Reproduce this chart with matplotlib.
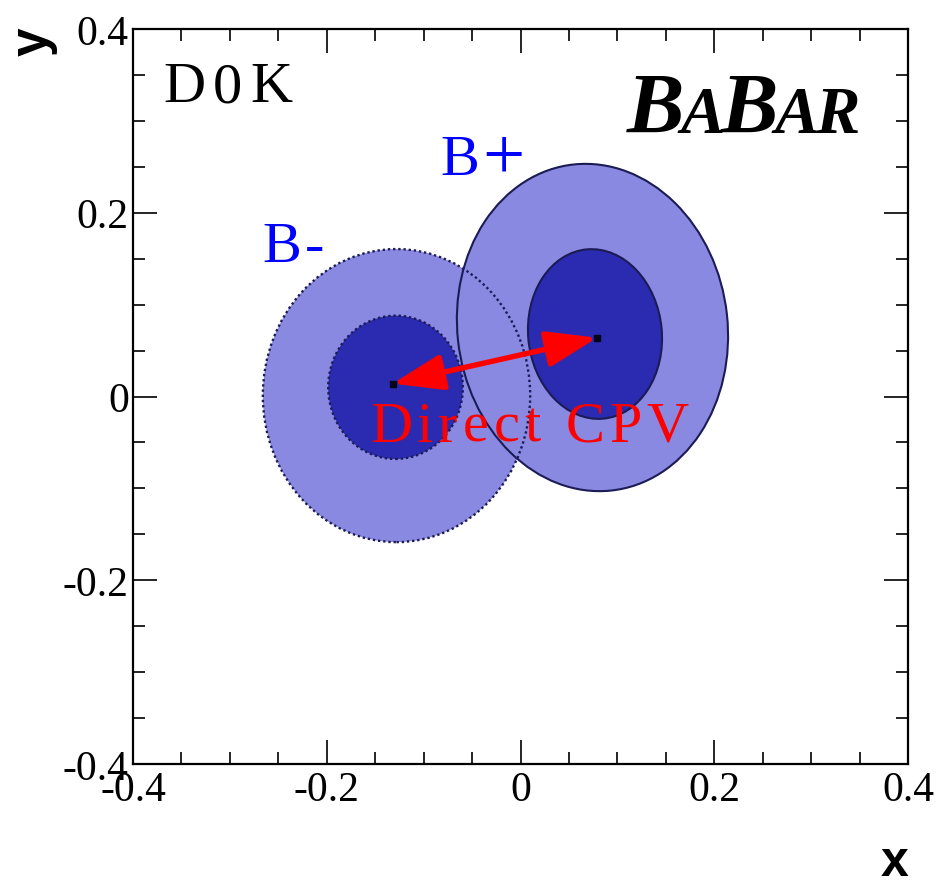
import matplotlib
matplotlib.use("Agg")
import matplotlib.pyplot as plt
from matplotlib.patches import Ellipse, FancyArrowPatch
from matplotlib.ticker import FixedLocator, MultipleLocator, FixedFormatter
import matplotlib.transforms as mtransforms

plt.rcParams["axes.unicode_minus"] = False

# ---- axis ticks ----
x_ticks = [-0.4, -0.2, 0.0, 0.2, 0.4]
x_tick_labels = ["-0.4", "-0.2", "0", "0.2", "0.4"]
y_ticks = [-0.4, -0.2, 0.0, 0.2, 0.4]
y_tick_labels = ["-0.4", "-0.2", "0", "0.2", "0.4"]

# ---- fit results: best-fit points (x, y) ----
bminus_center = [-0.132, 0.014]
bplus_center = [0.079, 0.064]

# ---- confidence contours: centre x, centre y, width, height, angle(deg) ----
bminus_outer = [-0.128, 0.001, 0.276, 0.319, 0.0]
bminus_inner = [-0.129, 0.010, 0.139, 0.156, 0.0]
bplus_outer = [0.0743, 0.0751, 0.279, 0.357, 6.0]
bplus_inner = [0.0769, 0.068, 0.138, 0.185, 5.0]

LIGHT = "#8989e2"
DARK = "#2b2bb2"
EDGE = "#1b1b55"

fig = plt.figure(figsize=(9.36, 8.87), dpi=100)
ax = fig.add_axes([133 / 936, 1 - 765 / 887, 775 / 936, 735 / 887])
ax.set_xlim(-0.4, 0.4)
ax.set_ylim(-0.4, 0.4)


def ellipse(p, face, z, edge="none", ls="-", lw=0):
    return Ellipse((p[0], p[1]), p[2], p[3], angle=p[4], facecolor=face,
                   edgecolor=edge, linestyle=ls, linewidth=lw, zorder=z)


# filled regions
ax.add_patch(ellipse(bminus_outer, LIGHT, 1))
ax.add_patch(ellipse(bminus_inner, DARK, 2))
ax.add_patch(ellipse(bplus_outer, LIGHT, 3))
ax.add_patch(ellipse(bplus_inner, DARK, 3.5))
# contour outlines
ax.add_patch(ellipse(bplus_outer, "none", 4, EDGE, "-", 1.5))
ax.add_patch(ellipse(bplus_inner, "none", 4, EDGE, "-", 1.5))
ax.add_patch(ellipse(bminus_outer, "none", 5, EDGE, (0, (1.0, 1.2)), 1.7))
ax.add_patch(ellipse(bminus_inner, "none", 5, EDGE, (0, (1.0, 1.2)), 1.7))

# best-fit points
ax.plot([bminus_center[0], bplus_center[0]], [bminus_center[1], bplus_center[1]],
        linestyle="none", marker="s", markersize=5, color="#05051a", zorder=6)

# direct CP violation arrow between the two solutions
arrow = FancyArrowPatch(tuple(bminus_center), tuple(bplus_center),
                        arrowstyle="<|-|>,head_length=31,head_width=11",
                        mutation_scale=1, color="red", linewidth=3.9,
                        shrinkA=0, shrinkB=0, zorder=7)
ax.add_patch(arrow)

# ---- frame and ticks ----
for sp in ax.spines.values():
    sp.set_linewidth(1.6)
    sp.set_zorder(10)
ax.xaxis.set_major_locator(FixedLocator(x_ticks))
ax.xaxis.set_major_formatter(FixedFormatter(x_tick_labels))
ax.yaxis.set_major_locator(FixedLocator(y_ticks))
ax.yaxis.set_major_formatter(FixedFormatter(y_tick_labels))
ax.xaxis.set_minor_locator(MultipleLocator(0.05))
ax.yaxis.set_minor_locator(MultipleLocator(0.05))
ax.tick_params(which="both", direction="in", top=True, right=True,
               colors="black", width=1.2)
ax.tick_params(which="major", length=17)
ax.tick_params(which="minor", length=8.5)
ax.tick_params(axis="x", which="major", pad=5)
ax.tick_params(axis="y", which="major", pad=3)
for lab in ax.get_xticklabels() + ax.get_yticklabels():
    lab.set_family("Liberation Serif")
    lab.set_fontsize(30)

# axis titles
fig.text(33 / 936, 1 - 42 / 887, "y", rotation=90, ha="center", va="center",
         family="Liberation Sans", weight="bold", fontsize=37)
fig.text(895 / 936, 1 - 886 / 887, "x", ha="center", va="bottom",
         family="Liberation Sans", weight="bold", fontsize=36)

renderer = fig.canvas.get_renderer()


def tracked_text(x, y, pieces, tracking_px, **kw):
    """Draw text char-by-char at data (x, y) with extra spacing in pixels.
    pieces: list of (string, fontsize, baseline shift in px)."""
    offset = 0.0
    for s, size, dy in pieces:
        for ch in s:
            tr = mtransforms.offset_copy(ax.transData, fig=fig,
                                         x=offset * 72 / fig.dpi,
                                         y=dy * 72 / fig.dpi, units="points")
            t = ax.text(x, y, ch, transform=tr, fontsize=size, ha="left",
                        va="baseline", zorder=9, **kw)
            if ch == " ":
                w = 0.25 * size * fig.dpi / 72
            else:
                w = t.get_window_extent(renderer).width
            offset += w + tracking_px


serif = dict(family="Liberation Serif")
tracked_text(-0.369, 0.3216, [("D0K", 42, 0)], 8, color="black", **serif)
tracked_text(-0.0831, 0.2422, [("B", 42, 0), ("+", 54, -4)], 3,
             color="#0000ff", **serif)
tracked_text(-0.2668, 0.1475, [("B-", 42, 0)], 4, color="#0000ff", **serif)
tracked_text(-0.1554, -0.0484, [("Direct CPV", 42, 0)], 5, color="#ff0000",
             **serif)
tracked_text(0.1099, 0.2879,
             [("B", 62, 0), ("A", 48, 0), ("B", 62, 0), ("AR", 48, 0)], -4,
             color="black", weight="bold", style="italic", **serif)

fig.savefig("out.png", dpi=100)
